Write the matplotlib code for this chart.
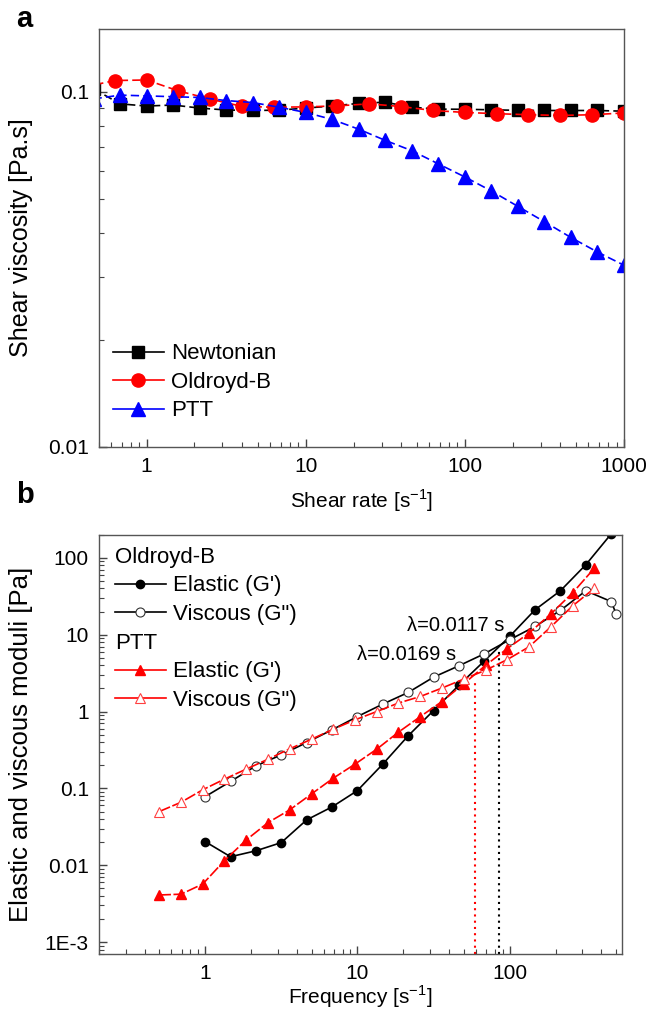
import matplotlib
matplotlib.use("Agg")
import matplotlib.pyplot as plt
from matplotlib.lines import Line2D
from matplotlib.ticker import LogLocator, NullFormatter

plt.rcParams['font.family'] = ['Liberation Sans', 'DejaVu Sans']

# ---- panel a: shear viscosity ----
rate_6 = [0.464, 0.681, 1, 1.468, 2.154, 3.162, 4.642, 6.813, 10, 14.68, 21.54,
          31.62, 46.42, 68.13, 100, 146.8, 215.4, 316.2, 464.2, 681.3, 1000]
rate_5 = [0.398, 0.631, 1, 1.585, 2.512, 3.981, 6.310, 10, 15.85, 25.12, 39.81,
          63.10, 100, 158.5, 251.2, 398.1, 631.0, 1000]

visc_newtonian = [0.102, 0.0925, 0.0912, 0.0918, 0.0900, 0.0889, 0.0886, 0.0888,
                  0.0900, 0.0912, 0.0928, 0.0935, 0.0905, 0.0894, 0.0893, 0.0890,
                  0.0887, 0.0886, 0.0886, 0.0886, 0.0882]
visc_oldroyd = [0.103, 0.1076, 0.1080, 0.1006, 0.0954, 0.0910, 0.0905, 0.0907,
                0.0913, 0.0925, 0.0909, 0.0886, 0.0875, 0.0868, 0.0862, 0.0858,
                0.0862, 0.0872]
visc_ptt = [0.0955, 0.0979, 0.0974, 0.0969, 0.0964, 0.0945, 0.0933, 0.0905,
            0.0875, 0.0836, 0.0785, 0.0730, 0.0683, 0.0627, 0.0576, 0.0526,
            0.0476, 0.0431, 0.0389, 0.0354, 0.0325]

# ---- panel b: moduli ----
freq_ob = [1, 1.468, 2.154, 3.162, 4.642, 6.813, 10, 14.68, 21.54, 31.62, 46.42,
           68.13, 100, 146.8, 215.4, 316.2, 464.2]
freq_ob_visc = [1, 1.468, 2.154, 3.162, 4.642, 6.813, 10, 14.68, 21.54, 31.62,
                46.42, 68.13, 100, 146.8, 215.4, 316.2, 464.2, 500]
ob_elastic = [0.0203, 0.0129, 0.0154, 0.0197, 0.0389, 0.0574, 0.0936, 0.207,
              0.483, 1.03, 2.2, 4.55, 9.5, 21.1, 37.3, 81.3, 205]
ob_viscous = [0.078, 0.123, 0.196, 0.273, 0.395, 0.578, 0.86, 1.25, 1.77, 2.8,
              3.94, 5.64, 8.6, 12.8, 20.7, 37.3, 27, 18.7]

freq_ptt = [0.5, 0.695, 0.965, 1.34, 1.86, 2.59, 3.59, 5.0, 6.95, 9.65, 13.4,
            18.6, 25.9, 35.9, 50.0, 69.5, 96.5, 134, 186, 259, 359]
ptt_elastic = [0.0041, 0.0042, 0.0057, 0.0115, 0.0213, 0.0359, 0.0525, 0.0848,
               0.136, 0.207, 0.324, 0.539, 0.86, 1.35, 2.3, 4.0, 6.6, 10.5, 18.6,
               35, 73]
ptt_viscous = [0.050, 0.066, 0.096, 0.132, 0.178, 0.240, 0.327, 0.437, 0.59,
               0.78, 1.0, 1.29, 1.57, 2.02, 2.65, 3.45, 4.75, 6.95, 12.6, 23.7,
               40]

lambda_ob = 0.0117
lambda_ptt = 0.0169

fig = plt.figure(figsize=(6.58, 10.11), dpi=100)
ax1 = fig.add_axes([0.150, 0.558, 0.798, 0.413])
ax2 = fig.add_axes([0.150, 0.0564, 0.795, 0.4147])

dash = (5, 2.5)
ax1.plot(rate_6, visc_newtonian, color='black', marker='s', ms=8, lw=1.2,
         dashes=dash)
ax1.plot(rate_5, visc_oldroyd, color='red', marker='o', ms=9.5, lw=1.2,
         dashes=dash)
ax1.plot(rate_6, visc_ptt, color='blue', marker='^', ms=9.5, lw=1.2,
         dashes=dash)

ax1.set_xscale('log')
ax1.set_yscale('log')
ax1.set_xlim(0.5, 1000)
ax1.set_ylim(0.01, 0.15)
ax1.set_xticks([1, 10, 100, 1000], labels=['1', '10', '100', '1000'])
ax1.set_yticks([0.01, 0.1], labels=['0.01', '0.1'])
ax1.set_xlabel('Shear rate [s$^{\\mathregular{-1}}$]', fontsize=15)
ax1.set_ylabel('Shear viscosity [Pa.s]', fontsize=18)
ax1.xaxis.set_label_coords(0.5, -0.097)
ax1.yaxis.set_label_coords(-0.125, 0.5)

proxies = [
    Line2D([], [], color='black', marker='s', ms=8, lw=1.2),
    Line2D([], [], color='red', marker='o', ms=9.5, lw=1.2),
    Line2D([], [], color='blue', marker='^', ms=9.5, lw=1.2),
]
ax1.legend(proxies, ['Newtonian', 'Oldroyd-B', 'PTT'], loc='upper left',
           bbox_to_anchor=(0.027, 0.248), frameon=False, fontsize=16,
           handlelength=2.3, handletextpad=0.3, labelspacing=0.34,
           borderpad=0, borderaxespad=0)

# panel b
ax2.plot(freq_ob, ob_elastic, color='black', marker='o', ms=6, lw=1.2)
ax2.plot(freq_ob_visc, ob_viscous, color='black', marker='o', ms=6.5, lw=1.2,
         mfc='white', mec='#333333', mew=0.8)
ax2.plot(freq_ptt, ptt_elastic, color='red', marker='^', ms=7, lw=1.2,
         dashes=(7, 1.5))
ax2.plot(freq_ptt, ptt_viscous, color='red', marker='^', ms=7.5, lw=1.2,
         dashes=(7, 1.5), mfc='white', mec='#ff4040', mew=0.8)

ax2.plot([1 / lambda_ptt, 1 / lambda_ptt], [7e-4, 2.5], color='red', lw=1.5,
         linestyle=(0, (1, 2)))
ax2.plot([1 / lambda_ob, 1 / lambda_ob], [7e-4, 6.5], color='black', lw=1.5,
         linestyle=(0, (1, 2)))

ax2.text(21.3, 13.3, 'λ=0.0117 s', fontsize=14.5, ha='left', va='center')
ax2.text(9.9, 5.5, 'λ=0.0169 s', fontsize=14.5, ha='left', va='center')

ax2.set_xscale('log')
ax2.set_yscale('log')
ax2.set_xlim(0.2, 545)
ax2.set_ylim(7e-4, 200)
ax2.set_xticks([1, 10, 100], labels=['1', '10', '100'])
ax2.set_yticks([1e-3, 0.01, 0.1, 1, 10, 100],
               labels=['1E-3', '0.01', '0.1', '1', '10', '100'])
ax2.set_xlabel('Frequency [s$^{\\mathregular{-1}}$]', fontsize=15)
ax2.set_ylabel('Elastic and viscous moduli [Pa]', fontsize=18.5)
ax2.xaxis.set_label_coords(0.5, -0.07)
ax2.yaxis.set_label_coords(-0.125, 0.5)

ob_handles = [
    Line2D([], [], color='black', marker='o', ms=6, lw=1.2),
    Line2D([], [], color='black', marker='o', ms=6.5, lw=1.2, mfc='white',
           mec='#333333', mew=0.8),
]
ptt_handles = [
    Line2D([], [], color='red', marker='^', ms=7, lw=1.2),
    Line2D([], [], color='red', marker='^', ms=7.5, lw=1.2, mfc='white',
           mec='#ff4040', mew=0.8),
]
leg_kw = dict(loc='upper left', frameon=False, fontsize=16, title_fontsize=16,
              handlelength=2.3, handletextpad=0.3, labelspacing=0.34,
              borderpad=0, borderaxespad=0, alignment='left')
leg1 = ax2.legend(ob_handles, ["Elastic (G')", 'Viscous (G")'],
                  title='Oldroyd-B', bbox_to_anchor=(0.031, 0.971), **leg_kw)
ax2.add_artist(leg1)
ax2.legend(ptt_handles, ["Elastic (G')", 'Viscous (G")'], title='PTT',
           bbox_to_anchor=(0.031, 0.766), **leg_kw)

for ax in (ax1, ax2):
    ax.xaxis.set_minor_locator(LogLocator(base=10, subs=range(2, 10), numticks=20))
    ax.yaxis.set_minor_locator(LogLocator(base=10, subs=range(2, 10), numticks=20))
    ax.xaxis.set_minor_formatter(NullFormatter())
    ax.yaxis.set_minor_formatter(NullFormatter())
    ax.tick_params(which='both', direction='in', top=False, right=False,
                   labelsize=15, pad=7, color='#444444')
    ax.tick_params(which='major', length=6, width=1)
    ax.tick_params(which='minor', length=3.5, width=0.8)
    for sp in ax.spines.values():
        sp.set_color('#555555')
        sp.set_linewidth(1)

fig.text(0.024, 0.981, 'a', fontsize=21, fontweight='bold', va='center')
fig.text(0.024, 0.510, 'b', fontsize=21, fontweight='bold', va='center')

fig.savefig('out.png', dpi=100)
